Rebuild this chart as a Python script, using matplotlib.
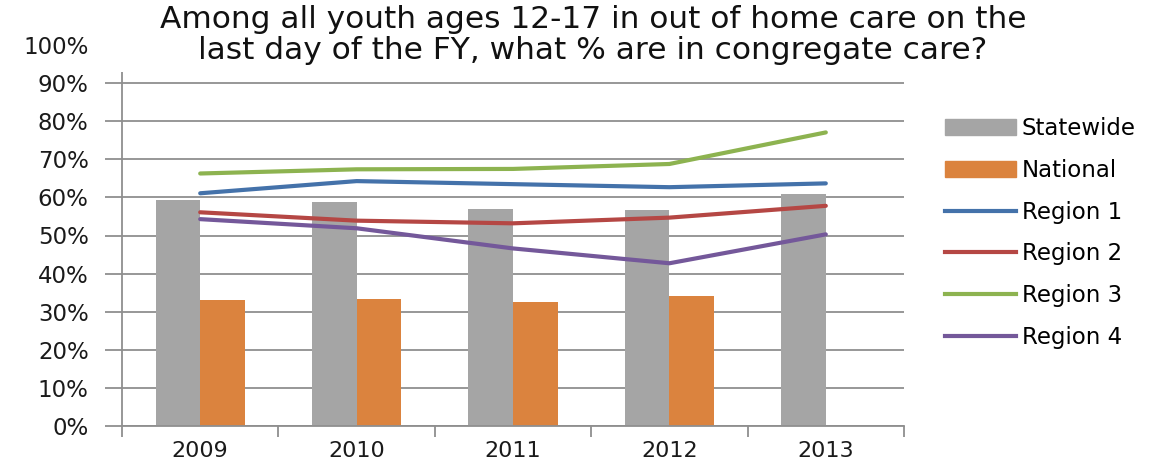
import matplotlib
matplotlib.use("Agg")
import matplotlib.pyplot as plt
import numpy as np
from matplotlib.patches import Patch, Rectangle
from matplotlib.lines import Line2D

years = ["2009", "2010", "2011", "2012", "2013"]
statewide = [0.593, 0.589, 0.570, 0.566, 0.609]
national = [0.330, 0.333, 0.324, 0.341, None]
region1 = [0.611, 0.643, 0.635, 0.627, 0.637]
region2 = [0.561, 0.539, 0.532, 0.547, 0.578]
region3 = [0.663, 0.674, 0.675, 0.688, 0.771]
region4 = [0.543, 0.519, 0.466, 0.427, 0.503]

title_lines = ["Among all youth ages 12-17 in out of home care on the",
               "last day of the FY, what % are in congregate care?"]

c_state = "#a5a5a5"
c_nat = "#db833e"
c_r1 = "#4472aa"
c_r2 = "#b54744"
c_r3 = "#8db350"
c_r4 = "#74589a"
grid_c = "#8f8f8f"

W, H = 1171, 468
fig = plt.figure(figsize=(W / 100, H / 100), dpi=100)
ax = fig.add_axes([122 / W, 1 - 425.7 / H, (904 - 122) / W, (425.7 - 45.3) / H])

x = np.arange(len(years))
bw = 0.285
ax.bar(x - bw / 2, statewide, width=bw, color=c_state, zorder=2)
nat_x = [xi + bw / 2 for xi, v in zip(x, national) if v is not None]
nat_v = [v for v in national if v is not None]
ax.bar(nat_x, nat_v, width=bw, color=c_nat, zorder=2)

for vals, c in [(region1, c_r1), (region2, c_r2), (region3, c_r3), (region4, c_r4)]:
    ax.plot(x, vals, color=c, lw=3, solid_capstyle="round", zorder=3)

ax.set_xlim(-0.5, len(years) - 0.5)
ax.set_ylim(0, 1.0)
yt = np.arange(0, 1.01, 0.1)
ax.set_yticks(yt)
ax.set_yticklabels([f"{int(round(v * 100))}%" for v in yt])
ax.yaxis.grid(True, color=grid_c, lw=1.3, zorder=0)
ax.set_axisbelow(True)

ax.set_xticks(x)
ax.set_xticklabels(years)
ax.set_xticks(np.arange(-0.5, len(years), 1.0), minor=True)
ax.tick_params(axis="x", which="major", length=0, pad=11, labelsize=16, colors="#1a1a1a")
ax.tick_params(axis="x", which="minor", length=8, width=1.3, color=grid_c, direction="out")
ax.tick_params(axis="y", length=12, width=1.3, color=grid_c, pad=12, labelsize=16.5,
               labelcolor="#1a1a1a")

for s in ["top", "right"]:
    ax.spines[s].set_visible(False)
for s in ["left", "bottom"]:
    ax.spines[s].set_color(grid_c)
    ax.spines[s].set_linewidth(1.3)

# Title block sits over the top strip of the plot area
fig.add_artist(Rectangle((100 / W, 1 - 72 / H), 1 - 100 / W, 72 / H,
                         transform=fig.transFigure, facecolor="white",
                         edgecolor="none", zorder=9))
fig.text(593 / W, 1 - 35 / H, "\n".join(title_lines), ha="center", va="center",
         fontsize=22.5, family="DejaVu Sans", color="#111111", linespacing=1.08,
         zorder=10)

handles = [Patch(color=c_state), Patch(color=c_nat),
           Line2D([], [], color=c_r1, lw=3), Line2D([], [], color=c_r2, lw=3),
           Line2D([], [], color=c_r3, lw=3), Line2D([], [], color=c_r4, lw=3)]
labels = ["Statewide", "National", "Region 1", "Region 2", "Region 3", "Region 4"]
fig.legend(handles, labels, loc="upper left", bbox_to_anchor=(945 / W, 1 - 117 / H),
           frameon=False, fontsize=16.5, handlelength=3.1, handletextpad=0.25,
           labelspacing=0.82, borderaxespad=0, borderpad=0)

fig.savefig("out.png", dpi=100)
